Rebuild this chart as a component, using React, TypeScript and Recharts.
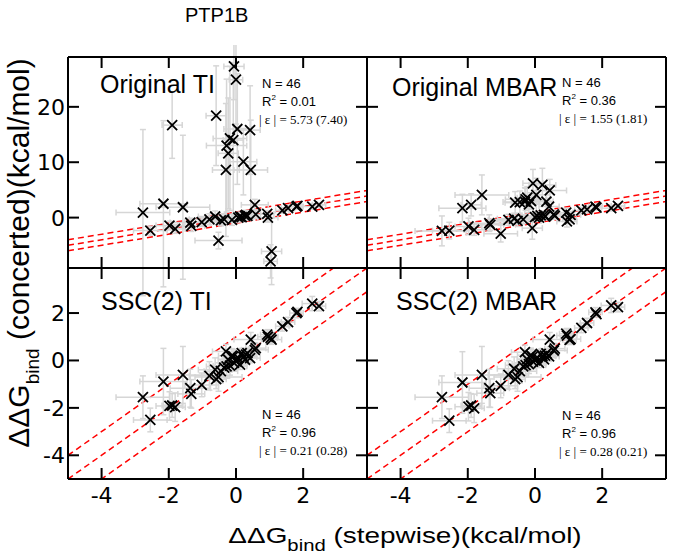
import React from "react";
import { ScatterChart, Scatter, XAxis, YAxis, ErrorBar, ReferenceLine } from "recharts";

// stepwise ddG (x) and its error, shared by all four panels
const stepwise = [
  -2.77, -2.55, -2.16, -1.98, -1.9, -1.81, -1.58, -1.36, -1.33, -1.02,
  -0.79, -0.62, -0.59, -0.52, -0.45, -0.35, -0.3, -0.28, -0.23, -0.18,
  -0.12, -0.08, -0.06, 0.0, 0.04, 0.07, 0.12, 0.17, 0.22, 0.27,
  0.3, 0.34, 0.42, 0.44, 0.56, 0.59, 0.93, 0.95, 1.03, 1.06,
  1.38, 1.55, 1.8, 1.83, 2.27, 2.47,
];
const stepwiseErr = [
  0.8, 0.5, 0.7, 0.4, 0.3, 0.3, 0.8, 0.6, 0.4, 0.5,
  0.6, 0.5, 0.3, 0.7, 0.5, 0.3, 0.4, 0.6, 0.3, 0.5,
  0.4, 0.3, 0.3, 0.2, 0.4, 0.3, 0.2, 0.2, 0.4, 0.2,
  0.3, 0.2, 0.3, 0.5, 0.4, 0.3, 0.2, 0.3, 0.2, 0.3,
  0.2, 0.2, 0.2, 0.1, 0.3, 0.2,
];

const origTi = [
  0.9, -2.35, 2.5, -1.44, 16.7, -2.04, 1.87, -0.9, -1.5, -0.8,
  -0.3, 0.2, 18.4, -4.15, -0.5, -0.3, 8.6, 13.0, 11.6, 14.3,
  -0.4, 14.0, 27.3, 24.9, 16.0, 0.0, 0.2, 0.1, 10.1, 0.3,
  0.5, 0.3, 15.8, 8.6, 2.3, 0.6, 0.67, 0.0, -7.9, -6.1,
  1.3, 1.7, 2.0, 2.1, 2.0, 2.3,
];
const origTiErr = [
  15, 0.8, 15, 0.8, 6, 0.8, 13, 0.8, 1.0, 0.8,
  1.0, 1.0, 9, 1.5, 1.0, 1.0, 12, 12, 10, 13,
  1.0, 14, 6, 8, 10, 0.8, 0.8, 0.8, 6, 0.8,
  0.8, 0.8, 8, 9, 1.0, 0.8, 0.6, 0.8, 3, 6,
  0.5, 0.5, 0.5, 0.4, 0.5, 0.4,
];

const origMbar = [
  -2.4, -2.35, 1.7, -1.6, 2.3, -2.2, 4.1, -1.0, -1.3, -2.9,
  -0.4, -0.2, 2.7, -0.6, 2.8, -0.3, 2.9, 3.3, 3.6, 2.4,
  3.0, -1.9, 6.2, 0.1, 4.1, 0.3, 0.0, 0.4, 5.9, 0.5,
  0.2, 2.9, 2.0, 4.9, 0.6, 0.3, 0.9, -0.7, -0.3, 0.5,
  1.3, 1.5, 2.0, 1.8, 1.7, 2.1,
];
const origMbarErr = [
  2.7, 1.5, 2.5, 1.5, 2.0, 1.0, 3.6, 1.5, 1.0, 1.5,
  1.0, 1.0, 2.0, 1.0, 2.0, 0.8, 2.5, 2.0, 2.0, 1.5,
  1.5, 2.0, 2.5, 0.8, 3.0, 0.8, 0.6, 0.6, 3.0, 0.6,
  0.6, 2.0, 1.5, 2.0, 0.6, 0.6, 0.8, 1.0, 0.6, 0.6,
  0.5, 0.5, 0.5, 0.4, 0.5, 0.4,
];

const sscTi = [
  -1.55, -2.51, -0.89, -1.92, -1.9, -1.97, -0.61, -1.17, -1.41, -1.03,
  -0.65, -0.39, -0.79, -0.7, -0.45, -0.3, 0.38, -0.25, 0.03, -0.22,
  0.2, 0.17, -0.1, -0.04, 0.05, 0.1, -0.18, 0.31, 0.15, 0.03,
  0.25, 0.31, 0.1, 0.88, 0.45, 0.52, 1.09, 1.0, 0.95, 0.88,
  1.44, 1.62, 2.0, 2.05, 2.4, 2.29,
];
const sscTiErr = [
  0.9, 0.5, 1.4, 0.6, 0.5, 0.6, 1.2, 0.8, 0.6, 0.5,
  0.6, 0.5, 0.4, 0.6, 0.5, 0.4, 0.3, 0.5, 0.3, 0.4,
  0.3, 0.3, 0.3, 0.2, 0.3, 0.2, 0.2, 0.2, 0.3, 0.2,
  0.2, 0.2, 0.2, 0.3, 0.3, 0.2, 0.2, 0.3, 0.2, 0.2,
  0.2, 0.2, 0.2, 0.1, 0.3, 0.2,
];

const sscMbar = [
  -1.55, -2.54, -0.93, -1.95, -1.9, -2.02, -0.61, -1.17, -1.38, -1.07,
  -0.61, -0.35, -0.79, -0.7, -0.45, -0.25, 0.35, -0.2, 0.05, -0.15,
  0.22, 0.15, -0.05, 0.0, 0.08, 0.12, -0.1, 0.28, 0.18, 0.05,
  0.2, 0.3, 0.17, 0.88, 0.42, 0.5, 1.13, 1.05, 0.87, 0.9,
  1.37, 1.58, 2.03, 1.95, 2.32, 2.25,
];
const sscMbarErr = [
  0.9, 0.5, 1.3, 0.6, 0.5, 0.6, 1.2, 0.8, 0.6, 0.5,
  0.6, 0.5, 0.4, 0.6, 0.5, 0.4, 0.3, 0.5, 0.3, 0.4,
  0.3, 0.3, 0.3, 0.2, 0.3, 0.2, 0.2, 0.2, 0.3, 0.2,
  0.2, 0.2, 0.2, 0.3, 0.3, 0.2, 0.2, 0.3, 0.2, 0.2,
  0.2, 0.2, 0.2, 0.1, 0.3, 0.2,
];

const xTicks = [-4, -2, 0, 2];
const topYTicks = [0, 10, 20];
const bottomYTicks = [-4, -2, 0, 2];
const xDomain = [-5, 3.9];
const topYDomain = [-9.1, 29];
const bottomYDomain = [-5, 3.9];
const diagOffsets = [-1, 0, 1];

const SANS = "Liberation Sans, Arial, Helvetica, sans-serif";
const SERIF = "Liberation Serif, Times New Roman, serif";
const TICK_FONT = "DejaVu Sans, sans-serif";

const PW = 299;
const PH = 211;
const TICK_LEN = 11;

function renderCross(props: any) {
  const { cx, cy } = props;
  if (cx == null || cy == null) return null;
  const s = 5;
  return (
    <path
      d={`M${cx - s},${cy - s}L${cx + s},${cy + s}M${cx - s},${cy + s}L${cx + s},${cy - s}`}
      stroke="#000"
      strokeWidth={1.8}
      fill="none"
    />
  );
}

function makeLabel(orient: string, showLabel: boolean) {
  return (p: any) => {
    const { x, y, payload } = p;
    if (!showLabel) return <g />;
    if (orient === "bottom") {
      return (
        <text x={x} y={y + 24} textAnchor="middle" fontSize={22} fontFamily={TICK_FONT} fill="#000">
          {payload.value}
        </text>
      );
    }
    return (
      <text x={x - 3} y={y + 8} textAnchor="end" fontSize={22} fontFamily={TICK_FONT} fill="#000">
        {payload.value}
      </text>
    );
  };
}

function Panel({ left, top, ys, yErr, yDomain, yTicks, showX, showY }: any) {
  const data = stepwise.map((x, i) => ({ x, y: ys[i], xe: stepwiseErr[i], ye: yErr[i] }));
  const line = { stroke: "#000", strokeWidth: 2 };

  return (
    <div style={{ position: "absolute", left: left - 60, top: top - 12 }}>
      <ScatterChart width={PW + 72} height={PH + 54} margin={{ top: 0, right: 0, bottom: 0, left: 0 }}>
        <XAxis xAxisId="b" type="number" dataKey="x" domain={xDomain} ticks={xTicks} allowDataOverflow interval={0}
          orientation="bottom" height={42} tickSize={0} tickMargin={0}
          axisLine={line} tickLine={false} tick={makeLabel("bottom", showX)} />
        <XAxis xAxisId="t" type="number" domain={xDomain} ticks={xTicks} allowDataOverflow interval={0}
          orientation="top" height={12} axisLine={line} tickLine={false} tick={false} />
        <YAxis yAxisId="l" type="number" dataKey="y" domain={yDomain} ticks={yTicks} allowDataOverflow interval={0}
          orientation="left" width={60} tickSize={0} tickMargin={0}
          axisLine={line} tickLine={false} tick={makeLabel("left", showY)} />
        <YAxis yAxisId="r" type="number" domain={yDomain} ticks={yTicks} allowDataOverflow interval={0}
          orientation="right" width={12} axisLine={line} tickLine={false} tick={false} />
        {diagOffsets.map((o) => (
          <ReferenceLine
            key={`d${o}`}
            xAxisId="b"
            yAxisId="l"
            segment={[
              { x: xDomain[0], y: xDomain[0] + o },
              { x: xDomain[1], y: xDomain[1] + o },
            ]}
            stroke="#ff0000"
            strokeWidth={1.5}
            strokeDasharray="6 4"
            ifOverflow="hidden"
          />
        ))}
        <Scatter xAxisId="b" yAxisId="l" data={data} shape={renderCross} isAnimationActive={false}>
          <ErrorBar dataKey="xe" direction="x" width={3} stroke="#d6d6d6" strokeWidth={1.5} />
          <ErrorBar dataKey="ye" direction="y" width={3} stroke="#d6d6d6" strokeWidth={1.5} />
        </Scatter>
      </ScatterChart>
    </div>
  );
}

// inward tick marks on all four sides of a panel frame
function FrameTicks({ left, top, yDomain, yTicks }: any) {
  const px = (v: number) => left + ((v - xDomain[0]) / (xDomain[1] - xDomain[0])) * PW;
  const py = (v: number) => top + ((yDomain[1] - v) / (yDomain[1] - yDomain[0])) * PH;
  return (
    <g stroke="#000" strokeWidth={2}>
      {xTicks.map((t) => (
        <g key={`x${t}`}>
          <line x1={px(t)} y1={top + PH} x2={px(t)} y2={top + PH - TICK_LEN} />
          <line x1={px(t)} y1={top} x2={px(t)} y2={top + TICK_LEN} />
        </g>
      ))}
      {yTicks.map((t: number) => (
        <g key={`y${t}`}>
          <line x1={left} y1={py(t)} x2={left + TICK_LEN} y2={py(t)} />
          <line x1={left + PW} y1={py(t)} x2={left + PW - TICK_LEN} y2={py(t)} />
        </g>
      ))}
    </g>
  );
}

function Stats({ x, y, r2, eps }: any) {
  return (
    <g fill="#000">
      <text x={x + 3} y={y} fontFamily={SANS} fontSize={13}>N = 46</text>
      <text x={x + 3} y={y + 18} fontFamily={SANS} fontSize={13}>
        R<tspan fontSize={8} dy={-6}>2</tspan>
        <tspan dy={6}> = {r2}</tspan>
      </text>
      <text x={x} y={y + 36} fontFamily={SERIF} fontSize={13}>| ε | = {eps}</text>
    </g>
  );
}

export default function App() {
  const x0 = 68;
  const xm = 367;
  const y0 = 57;
  const ym = 268;
  return (
    <div style={{ position: "absolute", left: 0, top: 0, width: 673, height: 559, background: "#fff" }}>
      <Panel left={x0} top={y0} ys={origTi} yErr={origTiErr} yDomain={topYDomain} yTicks={topYTicks} showX={false} showY />
      <Panel left={xm} top={y0} ys={origMbar} yErr={origMbarErr} yDomain={topYDomain} yTicks={topYTicks} showX={false} showY={false} />
      <Panel left={x0} top={ym} ys={sscTi} yErr={sscTiErr} yDomain={bottomYDomain} yTicks={bottomYTicks} showX showY />
      <Panel left={xm} top={ym} ys={sscMbar} yErr={sscMbarErr} yDomain={bottomYDomain} yTicks={bottomYTicks} showX showY={false} />

      <svg width={673} height={559} style={{ position: "absolute", left: 0, top: 0, pointerEvents: "none" }}>
        <FrameTicks left={x0} top={y0} yDomain={topYDomain} yTicks={topYTicks} />
        <FrameTicks left={xm} top={y0} yDomain={topYDomain} yTicks={topYTicks} />
        <FrameTicks left={x0} top={ym} yDomain={bottomYDomain} yTicks={bottomYTicks} />
        <FrameTicks left={xm} top={ym} yDomain={bottomYDomain} yTicks={bottomYTicks} />

        <text x={185} y={22} fontFamily={SANS} fontSize={20} fill="#000">PTP1B</text>

        <text x={100} y={93} fontFamily={SANS} fontSize={25} fill="#000">Original TI</text>
        <text x={392} y={96} fontFamily={SANS} fontSize={25} fill="#000">Original MBAR</text>
        <text x={101} y={310} fontFamily={SANS} fontSize={25} fill="#000">SSC(2) TI</text>
        <text x={396} y={310} fontFamily={SANS} fontSize={25} fill="#000">SSC(2) MBAR</text>

        <Stats x={259} y={88} r2="0.01" eps="5.73 (7.40)" />
        <Stats x={559} y={87} r2="0.36" eps="1.55 (1.81)" />
        <Stats x={259} y={419} r2="0.96" eps="0.21 (0.28)" />
        <Stats x={559} y={420} r2="0.96" eps="0.28 (0.21)" />

        <text transform="translate(405,543) scale(1.27,1)" textAnchor="middle" fontFamily={SANS} fontSize={22} fill="#000">
          ΔΔG<tspan fontSize={16} dy={8}>bind</tspan>
          <tspan dy={-8}> (stepwise)(kcal/mol)</tspan>
        </text>
        <text transform="translate(28.5,253) rotate(-90)" textAnchor="middle" fontFamily={SANS} fontSize={30} fill="#000">
          ΔΔG<tspan fontSize={19} dy={10}>bind</tspan>
          <tspan dy={-10}> (concerted)(kcal/mol)</tspan>
        </text>
      </svg>
    </div>
  );
}
